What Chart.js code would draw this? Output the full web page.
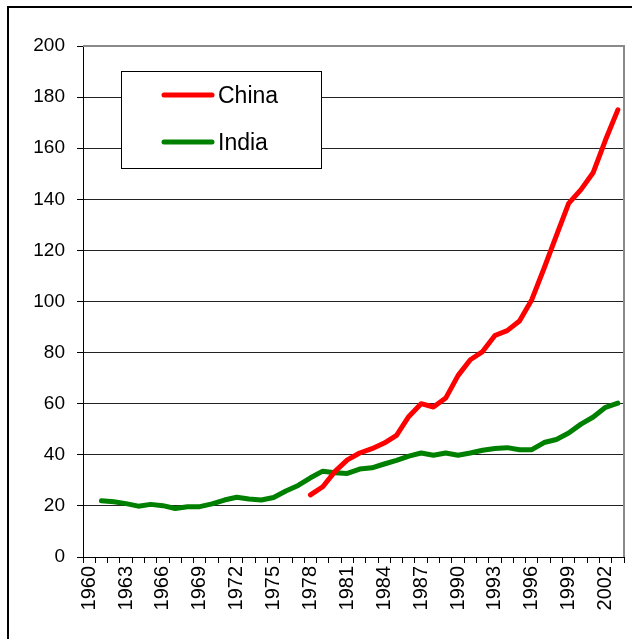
<!DOCTYPE html>
<html>
<head>
<meta charset="utf-8">
<script src="https://cdn.jsdelivr.net/npm/chart.js@4.4.1/dist/chart.umd.min.js"></script>
<style>
  html, body { margin: 0; padding: 0; background: #fff; }
  canvas { display: block; }
</style>
</head>
<body>
<canvas id="chart" width="632" height="639"></canvas>
<script>
  // years on the category axis
  const firstYear = 1960;
  const lastYear = 2003;
  const years = [];
  for (let y = firstYear; y <= lastYear; y++) years.push(String(y));

  // India, 1961-2003
  const indiaStart = 1961;
  const india = [
    22.0, 21.6, 20.9, 19.9, 20.6, 20.1, 19.0, 19.7, 19.7, 20.8,
    22.3, 23.4, 22.7, 22.3, 23.3, 25.8, 28.0, 31.0, 33.6, 33.0,
    32.7, 34.4, 34.9, 36.4, 37.8, 39.5, 40.7, 39.8, 40.7, 39.8,
    40.7, 41.8, 42.5, 42.8, 42.0, 42.0, 44.8, 46.0, 48.5, 52.0,
    54.8, 58.6, 60.2
  ];

  // China, 1978-2003
  const chinaStart = 1978;
  const china = [
    24.3, 27.5, 33.5, 38.0, 40.7, 42.4, 44.6, 47.6, 55.0, 60.0,
    58.7, 62.2, 71.0, 77.2, 80.4, 86.7, 88.6, 92.4, 100.7, 113.0,
    125.8, 138.4, 143.8, 150.5, 163.3, 175.0
  ];

  const yMin = 0;
  const yMax = 200;
  const yStep = 20;
  const labelEvery = 3;

  function padSeries(values, start) {
    return Array(start - firstYear).fill(null).concat(values);
  }

  Chart.defaults.font.family = "'Liberation Sans', Arial, sans-serif";
  Chart.defaults.color = '#000';

  const frameAndLegend = {
    id: 'frameAndLegend',
    beforeDraw(chart) {
      const ctx = chart.ctx;
      ctx.save();
      ctx.fillStyle = '#fff';
      ctx.fillRect(0, 0, chart.width, chart.height);
      // outer chart border (runs off the right and bottom)
      ctx.strokeStyle = '#000';
      ctx.lineWidth = 2;
      ctx.strokeRect(8, 7, chart.width + 20, chart.height + 20);
      ctx.restore();
    },
    beforeDatasetsDraw(chart) {
      const { ctx, chartArea } = chart;
      ctx.save();
      ctx.strokeStyle = '#8a8a8a';
      ctx.lineWidth = 2;
      ctx.beginPath();
      ctx.moveTo(chartArea.left, chartArea.top);
      ctx.lineTo(chartArea.right, chartArea.top);
      ctx.lineTo(chartArea.right, chartArea.bottom);
      ctx.stroke();
      ctx.restore();
    },
    afterDraw(chart) {
      const ctx = chart.ctx;
      const box = { x: 121, y: 71, w: 200, h: 97 };
      ctx.save();
      ctx.fillStyle = '#fff';
      ctx.fillRect(box.x, box.y, box.w, box.h);
      ctx.strokeStyle = '#000';
      ctx.lineWidth = 1;
      ctx.strokeRect(box.x + 0.5, box.y + 0.5, box.w, box.h);
      ctx.font = "23px 'Liberation Sans', Arial, sans-serif";
      ctx.textBaseline = 'middle';
      ctx.lineCap = 'round';
      chart.data.datasets.forEach((ds, i) => {
        const rowY = 95 + i * 47;
        ctx.strokeStyle = ds.borderColor;
        ctx.lineWidth = 5;
        ctx.beginPath();
        ctx.moveTo(164, rowY);
        ctx.lineTo(212, rowY);
        ctx.stroke();
        ctx.fillStyle = '#000';
        ctx.fillText(ds.label, 218, rowY + 2);
      });
      ctx.restore();
    }
  };

  new Chart(document.getElementById('chart'), {
    type: 'line',
    data: {
      labels: years,
      datasets: [
        {
          label: 'China',
          data: padSeries(china, chinaStart),
          borderColor: '#ff0000',
          borderWidth: 5,
          borderCapStyle: 'round',
          borderJoinStyle: 'round',
          pointRadius: 0,
          tension: 0
        },
        {
          label: 'India',
          data: padSeries(india, indiaStart),
          borderColor: '#008000',
          borderWidth: 5,
          borderCapStyle: 'round',
          borderJoinStyle: 'round',
          pointRadius: 0,
          tension: 0
        }
      ]
    },
    options: {
      responsive: false,
      animation: false,
      layout: { padding: { top: 46, right: 8, left: 0, bottom: 0 } },
      plugins: {
        legend: { display: false },
        tooltip: { enabled: false }
      },
      scales: {
        x: {
          type: 'category',
          offset: true,
          afterFit: (scale) => {
            scale.height = 82;
            scale.paddingLeft = 0;
            scale.paddingRight = 0;
          },
          grid: {
            offset: true,
            drawOnChartArea: false,
            drawTicks: true,
            tickLength: 6,
            color: '#000'
          },
          border: { color: '#000', width: 1 },
          ticks: {
            autoSkip: false,
            maxRotation: 90,
            minRotation: 90,
            padding: 3,
            color: '#000',
            font: { size: 20 },
            callback: function (value, index) {
              return index % labelEvery === 0 ? this.getLabelForValue(value) : '';
            }
          }
        },
        y: {
          min: yMin,
          max: yMax,
          afterFit: (scale) => { scale.width = 83; },
          grid: {
            color: (c) => (c.tick && c.tick.value === yMax ? 'rgba(0,0,0,0)' : '#222'),
            tickLength: 6,
            tickColor: '#000'
          },
          border: { color: '#000', width: 1 },
          ticks: {
            stepSize: yStep,
            padding: 12,
            color: '#000',
            font: { size: 19 }
          }
        }
      }
    },
    plugins: [frameAndLegend]
  });
</script>
</body>
</html>
